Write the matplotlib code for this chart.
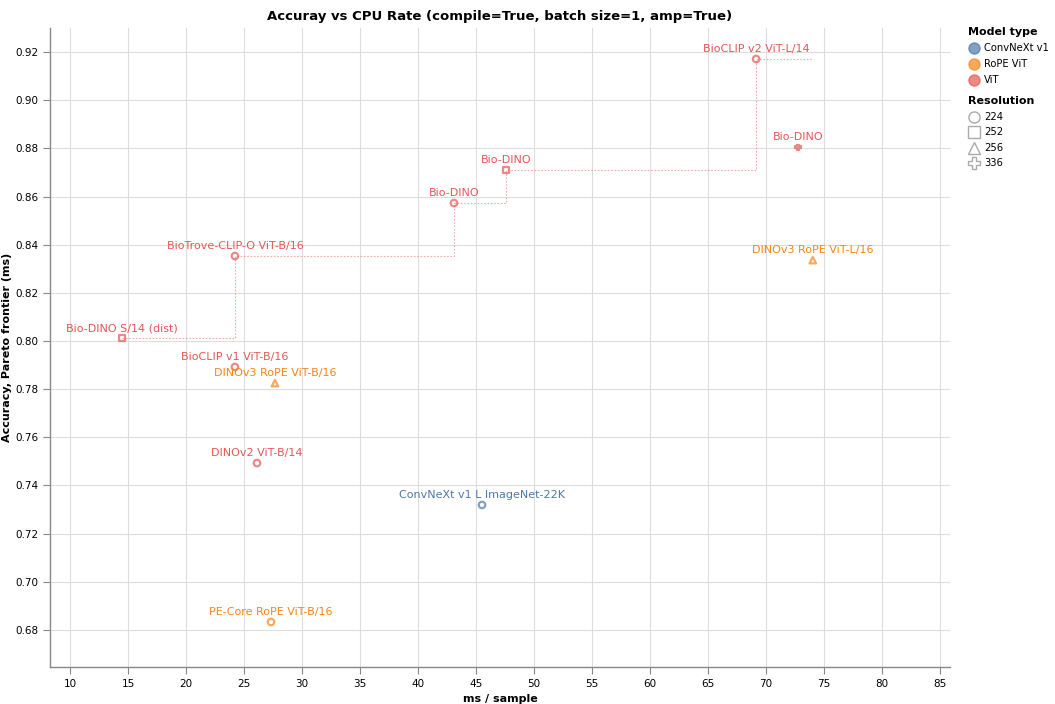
import matplotlib.pyplot as plt
import numpy as np

# data
names = ['Bio-DINO S/14 (dist)', 'BioTrove-CLIP-O ViT-B/16', 'Bio-DINO', 'Bio-DINO',
         'BioCLIP v2 ViT-L/14', 'Bio-DINO', 'DINOv3 RoPE ViT-L/16', 'BioCLIP v1 ViT-B/16',
         'DINOv3 RoPE ViT-B/16', 'DINOv2 ViT-B/14', 'ConvNeXt v1 L ImageNet-22K',
         'PE-Core RoPE ViT-B/16']
ms = [14.48, 24.22, 43.1, 47.6, 69.15, 72.76, 74.03, 24.22, 27.67, 26.12, 45.52, 27.33]
acc = [0.8012, 0.8353, 0.8573, 0.8710, 0.9171, 0.8805, 0.8336, 0.7892, 0.7825, 0.7493,
       0.7319, 0.6833]
model_type = ['ViT', 'ViT', 'ViT', 'ViT', 'ViT', 'ViT', 'RoPE ViT', 'ViT', 'RoPE ViT', 'ViT',
              'ConvNeXt v1', 'RoPE ViT']
resolution = [252, 224, 224, 252, 224, 336, 256, 224, 256, 224, 224, 224]

types = ['ConvNeXt v1', 'RoPE ViT', 'ViT']
resolutions = [224, 252, 256, 336]

colors = {'ConvNeXt v1': '#4c78a8', 'RoPE ViT': '#f58518', 'ViT': '#e45756'}
markers = {224: 'o', 252: 's', 256: '^', 336: 'P'}

fig = plt.figure(figsize=(10.55, 7.04), dpi=100)
ax = fig.add_axes([50 / 1055, 1 - 667 / 704, 900 / 1055, 639 / 704])

# pareto frontier (steps)
order = np.argsort(ms)
fx, fy = [], []
best = -1
for i in order:
    if acc[i] > best:
        best = acc[i]
        fx.append(ms[i])
        fy.append(acc[i])
fx.append(max(ms))
fy.append(fy[-1])
ax.plot(fx, fy, drawstyle='steps-post', color='#e45756', alpha=0.5, lw=0.8,
        linestyle=(0, (1.5, 1.5)), zorder=2)

for x, y, n, t, r in zip(ms, acc, names, model_type, resolution):
    c = colors[t]
    sz = 14 if r == 336 else 22
    ax.scatter([x], [y], marker=markers[r], facecolors='none', edgecolors=c,
               s=sz, linewidths=1.6, alpha=0.7, zorder=3)
    ax.annotate(n, (x, y), xytext=(0, 3.5), textcoords='offset points', ha='center',
                va='bottom', fontsize=8, color=c, zorder=4)

ax.set_xlim(8.28, 85.86)
ax.set_ylim(0.6646, 0.930)
ax.set_xticks(np.arange(10, 86, 5))
ax.set_yticks(np.arange(0.68, 0.921, 0.02))
ax.yaxis.set_major_formatter(plt.FormatStrFormatter('%.2f'))
ax.tick_params(labelsize=7.5, color='#888888', length=5, width=0.8)
ax.grid(True, color='#dddddd', lw=0.8)
ax.set_axisbelow(True)
for s in ['top', 'right']:
    ax.spines[s].set_visible(False)
for s in ['left', 'bottom']:
    ax.spines[s].set_color('#888888')
    ax.spines[s].set_linewidth(1)

ax.set_xlabel('ms / sample', fontsize=8, fontweight='bold', labelpad=4)
ax.set_ylabel('Accuracy, Pareto frontier (ms)', fontsize=8, fontweight='bold')
ax.yaxis.set_label_coords(-0.042, 0.5)
ax.set_title('Accuray vs CPU Rate (compile=True, batch size=1, amp=True)', fontsize=9.5,
             fontweight='bold', pad=6)

# legends drawn manually in figure coords
def fx_(px):
    return px / 1055

def fy_(py):
    return 1 - py / 704

fig.text(fx_(968), fy_(32), 'Model type', fontsize=8, fontweight='bold', va='center')
for k, t in enumerate(types):
    yy = 48 + k * 16
    fig.lines.append(plt.Line2D([fx_(974)], [fy_(yy)], marker='o', markersize=8,
                                color=colors[t], alpha=0.7, transform=fig.transFigure))
    fig.text(fx_(984), fy_(yy), t, fontsize=7.2, va='center')

fig.text(fx_(968), fy_(101), 'Resolution', fontsize=8, fontweight='bold', va='center')
for k, r in enumerate(resolutions):
    yy = 117 + k * 15.3
    fig.lines.append(plt.Line2D([fx_(974)], [fy_(yy)], marker=markers[r], markersize=8,
                                markerfacecolor='none', markeredgecolor='#aaaaaa',
                                markeredgewidth=1, transform=fig.transFigure))
    fig.text(fx_(984), fy_(yy), str(r), fontsize=7.2, va='center')

fig.savefig('out.png', dpi=100)
